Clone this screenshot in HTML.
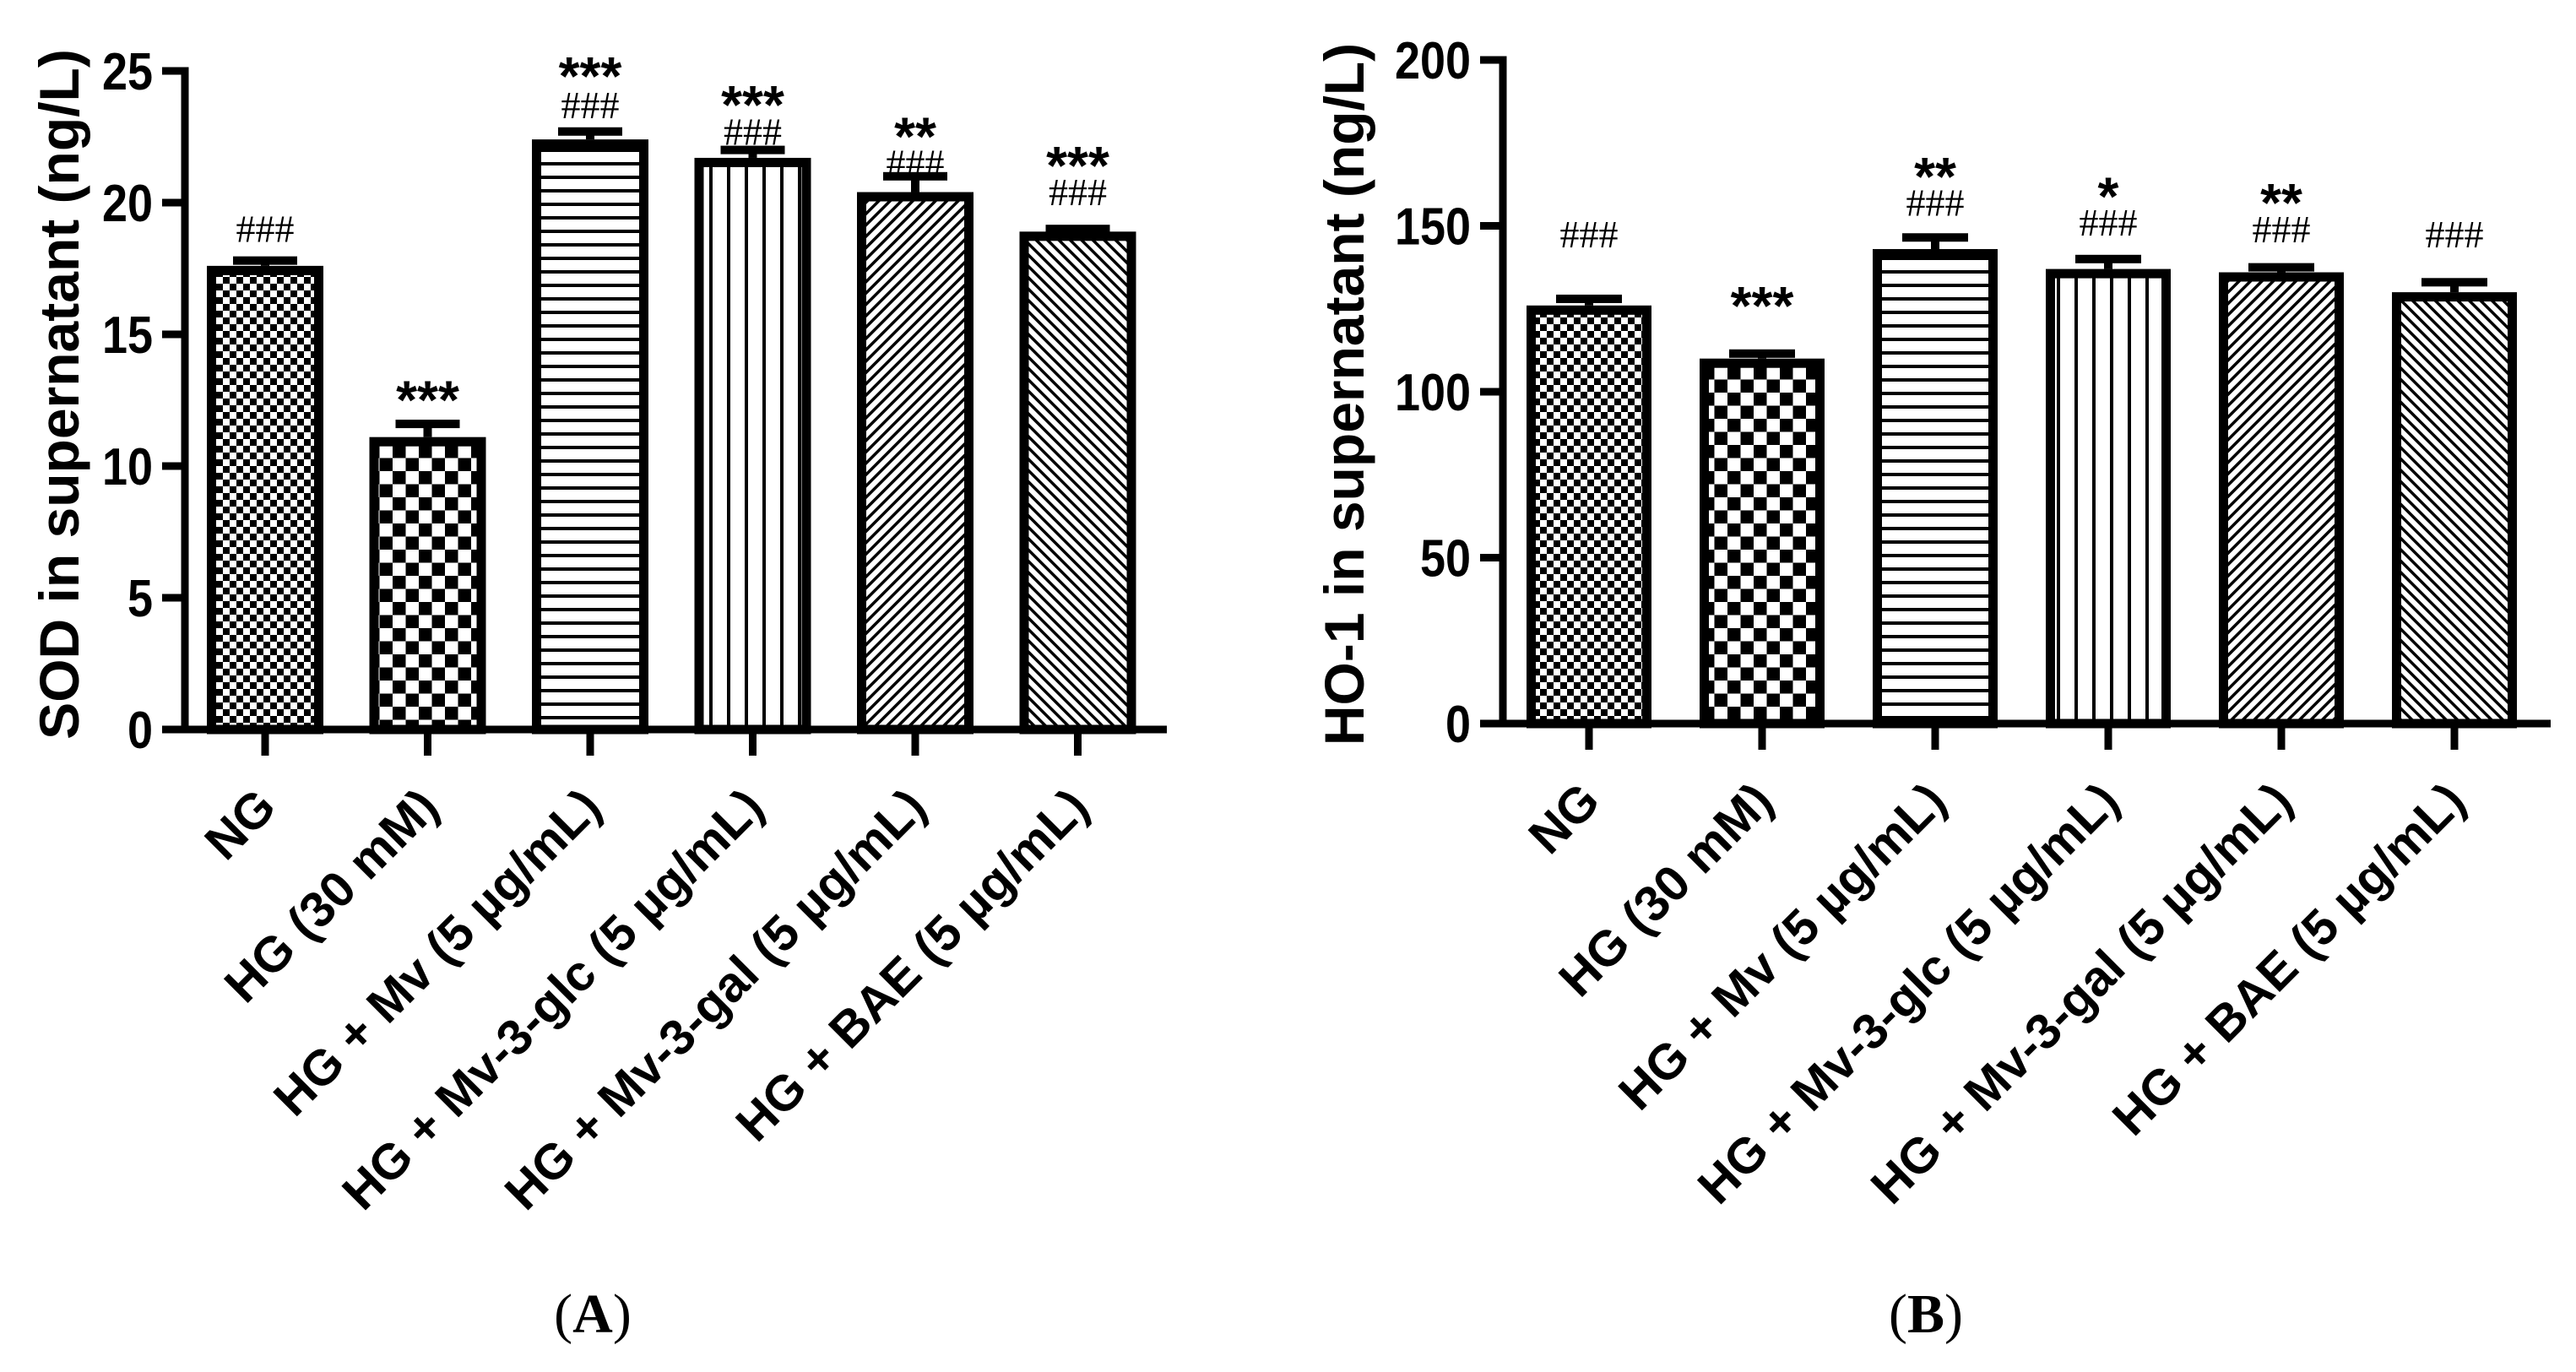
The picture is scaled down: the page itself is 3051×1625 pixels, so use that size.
<!DOCTYPE html>
<html><head><meta charset="utf-8"><style>
html,body{margin:0;padding:0;background:#fff;}
svg{display:block;}
text{font-family:"Liberation Sans",Arial,sans-serif;}
</style></head><body>
<svg id="fig" width="3051" height="1625" viewBox="0 0 3051 1625" xmlns="http://www.w3.org/2000/svg">
<defs>
<pattern id="p0" patternUnits="userSpaceOnUse" width="16" height="16"><rect width="16" height="16" fill="#fff"/><rect width="8" height="8" fill="#000"/><rect x="8" y="8" width="8" height="8" fill="#000"/></pattern>
<pattern id="p1" patternUnits="userSpaceOnUse" width="31" height="31"><rect width="31" height="31" fill="#fff"/><rect width="15.5" height="15.5" fill="#000"/><rect x="15.5" y="15.5" width="15.5" height="15.5" fill="#000"/></pattern>
<pattern id="p2" patternUnits="userSpaceOnUse" width="16" height="16"><rect width="16" height="16" fill="#fff"/><rect y="0" width="16" height="4" fill="#000"/></pattern>
<pattern id="p3" patternUnits="userSpaceOnUse" width="21" height="21"><rect width="21" height="21" fill="#fff"/><rect x="0" width="4" height="21" fill="#000"/></pattern>
<pattern id="p4" patternUnits="userSpaceOnUse" width="9.5" height="9.5" patternTransform="rotate(45)"><rect width="9.5" height="9.5" fill="#fff"/><rect width="3.5" height="9.5" fill="#000"/></pattern>
<pattern id="p5" patternUnits="userSpaceOnUse" width="9.5" height="9.5" patternTransform="rotate(-45)"><rect width="9.5" height="9.5" fill="#fff"/><rect width="3.5" height="9.5" fill="#000"/></pattern>
</defs>
<g id="panelA"></g>
<g id="panelB"></g>
</svg>
<script>
const categories = ["NG","HG (30 mM)","HG + Mv (5 \u00b5g/mL)","HG + Mv-3-glc (5 \u00b5g/mL)","HG + Mv-3-gal (5 \u00b5g/mL)","HG + BAE (5 \u00b5g/mL)"];
const sodValues = [17.6, 11.1, 22.4, 21.7, 20.4, 18.9];
const sodErrors = [0.2, 0.5, 0.3, 0.3, 0.6, 0.1];
const sodHashLabels = ["###","","###","###","###","###"];
const sodHashY = [19.0, 0, 23.7, 22.7, 21.5, 20.4];
const sodStarLabels = ["","***","***","***","**","***"];
const sodStarY = [0, 12.9, 25.2, 24.1, 22.9, 21.8];
const sodTicks = [0,5,10,15,20,25];
const hoValues = [126, 110, 143, 137, 136, 130];
const hoErrors = [2, 1.5, 3.5, 3, 1.5, 3];
const hoHashLabels = ["###","","###","###","###","###"];
const hoHashY = [147.5, 0, 157, 151, 149, 147.5];
const hoStarLabels = ["","***","**","*","**",""];
const hoStarY = [0, 129, 168, 162, 160, 0];
const hoTicks = [0,50,100,150,200];

const NS="http://www.w3.org/2000/svg";
function mk(parent,tag,attrs,txt){const e=document.createElementNS(NS,tag);for(const k in attrs)e.setAttribute(k,attrs[k]);if(txt!==undefined)e.textContent=txt;parent.appendChild(e);return e;}

function drawPanel(g,cfg){
  const y=v=>cfg.y0-(v-cfg.min)/(cfg.max-cfg.min)*(cfg.y0-cfg.yTop);
  const x=i=>cfg.x0+i*cfg.step;
  cfg.values.forEach((v,i)=>{
    const cx=x(i), top=y(v+cfg.errors[i]);
    const stem=mk(g,'rect',{x:cx-5,y:top,width:10,height:y(v)-top,fill:'#000'});
    
    
    const cap=mk(g,'rect',{x:cx-cfg.cap/2,y:top-5,width:cfg.cap,height:10,fill:'#000'});
    
    
    const r=mk(g,'rect',{x:cx-cfg.bw/2+5.5,y:y(v)+5.5,width:cfg.bw-11,height:cfg.y0-y(v)-5.5,fill:'url(#p'+i+')',stroke:'#000','stroke-width':11});
    
    
    if(cfg.hash[i]){const t=mk(g,'text',{x:cx,y:y(cfg.hashY[i]),'text-anchor':'middle','dominant-baseline':'central','font-size':46,style:'font-family:"Liberation Serif",serif'},cfg.hash[i]);
      
      }
    if(cfg.stars[i]){const t=mk(g,'text',{x:cx,y:y(cfg.starY[i])+12,'text-anchor':'middle','dominant-baseline':'central','font-size':64,'font-weight':'bold'},cfg.stars[i]);
      
      }
    const tk=mk(g,'rect',{x:cx-4.5,y:cfg.y0,width:9,height:31,fill:'#000'});
    
    
    const lb=mk(g,'text',{x:0,y:0,'text-anchor':'end','font-size':59,'font-weight':'bold',transform:`translate(${cx+16},${cfg.y0+95}) rotate(-45)`},categories[i]);
    
    
  });
  const ya=mk(g,'rect',{x:cfg.ax-4.5,y:cfg.yTop-4.5,width:9,height:cfg.y0-cfg.yTop+9,fill:'#000'});
  
  
  const xa=mk(g,'rect',{x:cfg.ax-27,y:cfg.y0-4.5,width:cfg.xEnd-cfg.ax+27,height:9,fill:'#000'});
  
  
  cfg.ticks.forEach(t=>{
    const tm=mk(g,'rect',{x:cfg.ax-27,y:y(t)-4.5,width:27,height:9,fill:'#000'});
    
    
    const tl=mk(g,'text',{x:cfg.ax-38,y:y(t)+22,'text-anchor':'end','font-size':62,'font-weight':'bold',textLength:String(t).length*30,lengthAdjust:'spacingAndGlyphs'},String(t));
    
    
  });
  const yt=mk(g,'text',{x:0,y:0,'text-anchor':'middle','dominant-baseline':'central','font-size':66,'font-weight':'bold',transform:`translate(${cfg.titleX},467) rotate(-90)`},cfg.title);
  
  
  const pl=mk(g,'text',{x:cfg.panelX,y:1578,'text-anchor':'middle','font-size':66,style:'font-family:"Liberation Serif",serif'});
  
  
  mk(pl,'tspan',{},'(');mk(pl,'tspan',{'font-weight':'bold'},cfg.letter);mk(pl,'tspan',{},')');
}

drawPanel(document.getElementById('panelA'),{values:sodValues,errors:sodErrors,hash:sodHashLabels,hashY:sodHashY,stars:sodStarLabels,starY:sodStarY,ticks:sodTicks,min:0,max:25,y0:864,yTop:84,x0:314,step:192.5,bw:138,cap:76,ax:219,xEnd:1382,titleX:70,title:"SOD in supernatant (ng/L)",panelX:702,letter:"A"});
drawPanel(document.getElementById('panelB'),{values:hoValues,errors:hoErrors,hash:hoHashLabels,hashY:hoHashY,stars:hoStarLabels,starY:hoStarY,ticks:hoTicks,min:0,max:200,y0:857,yTop:71,x0:1882,step:205,bw:148,cap:78,ax:1780,xEnd:3021,titleX:1592,title:"HO-1 in supernatant (ng/L)",panelX:2281,letter:"B"});
</script>
</body></html>
